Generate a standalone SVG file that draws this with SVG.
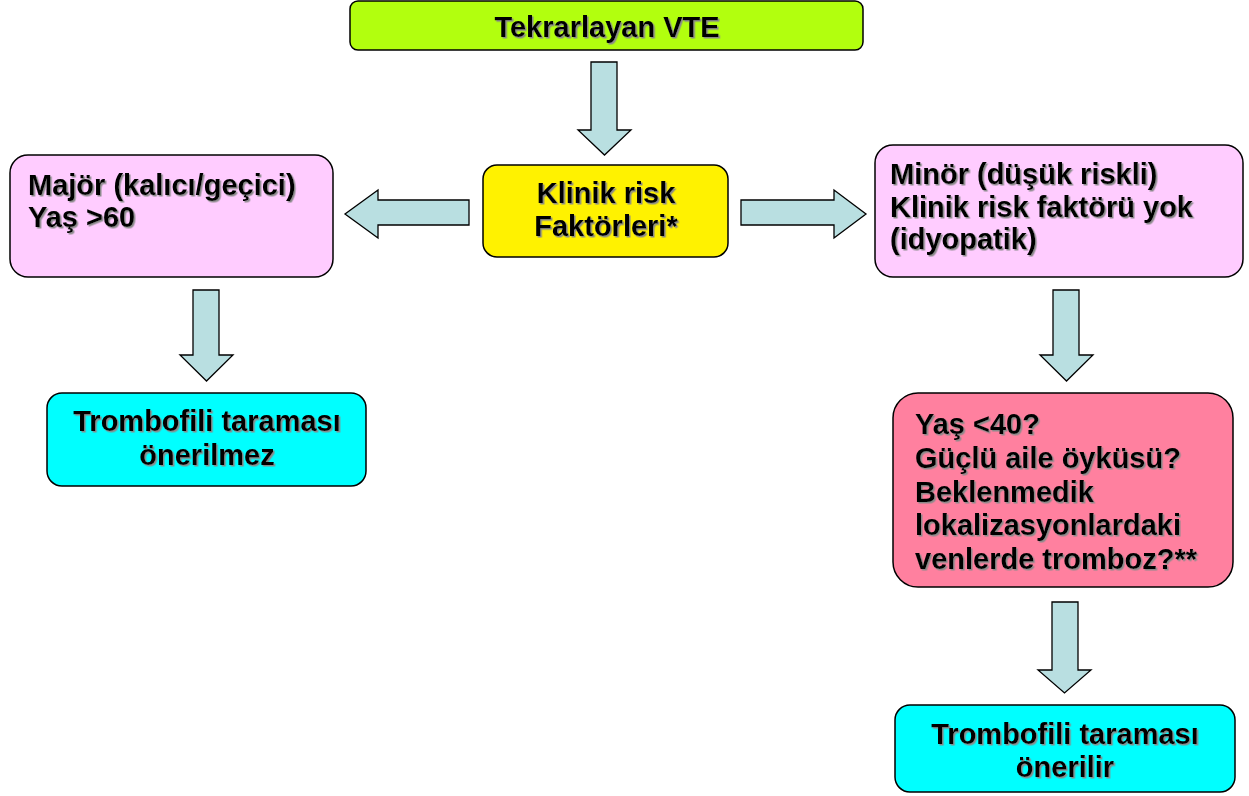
<svg xmlns="http://www.w3.org/2000/svg" width="1249" height="796" viewBox="0 0 1249 796">
<defs>
<filter id="sh" x="-10%" y="-10%" width="120%" height="130%">
<feDropShadow dx="1.5" dy="1.5" stdDeviation="0.6" flood-color="#8a8a8a" flood-opacity="1"/>
</filter>
</defs>
<style>
.box{stroke:#000;stroke-width:1.5}
.t{font-family:"Liberation Sans",Arial,sans-serif;font-weight:bold;font-size:29px;fill:#000;filter:url(#sh)}
.c{text-anchor:middle}
.arr{fill:#B9DFE1;stroke:#000;stroke-width:1.3;stroke-linejoin:miter}
</style>
<rect width="1249" height="796" fill="#fff"/>
<g id="connectors">
<path class="arr" d="M591,62 H617 V130 H631 L604.5,155 L578,130 H591 Z"/>
<path class="arr" d="M469,200 V225 H378 V238 L345,214 L378,190 V200 Z"/>
<path class="arr" d="M741,200 V225 H834 V238 L866,214 L834,190 V200 Z"/>
<path class="arr" d="M193,290 H219 V355 H233 L206.5,381 L180,355 H193 Z"/>
<path class="arr" d="M1053,290 H1079 V355 H1093 L1066.5,381 L1040,355 H1053 Z"/>
<path class="arr" d="M1052,602 H1078 V670 H1091 L1064.5,693 L1038,670 H1052 Z"/>
</g>
<g id="n-top">
<rect class="box" x="350" y="1" width="513" height="49" rx="8" fill="#B2FF0E"/>
<text class="t c" x="607" y="37">Tekrarlayan VTE</text>
</g>
<g id="n-klinik">
<rect class="box" x="483" y="165" width="245" height="92" rx="14" fill="#FFF200"/>
<text class="t c" x="606" y="203">Klinik risk</text>
<text class="t c" x="606" y="236">Faktörleri*</text>
</g>
<g id="n-major">
<rect class="box" x="10" y="155" width="323" height="122" rx="18" fill="#FFCCFF"/>
<text class="t" x="28" y="195">Majör (kalıcı/geçici)</text>
<text class="t" x="28" y="227">Yaş &gt;60</text>
</g>
<g id="n-minor">
<rect class="box" x="875" y="145" width="368" height="132" rx="18" fill="#FFCCFF"/>
<text class="t" x="890" y="184">Minör (düşük riskli)</text>
<text class="t" x="890" y="217">Klinik risk faktörü yok</text>
<text class="t" x="890" y="249">(idyopatik)</text>
</g>
<g id="n-onerilmez">
<rect class="box" x="47" y="393" width="319" height="93" rx="15" fill="#00FFFF"/>
<text class="t c" x="207" y="431">Trombofili taraması</text>
<text class="t c" x="207" y="465">önerilmez</text>
</g>
<g id="n-yas40">
<rect class="box" x="893" y="393" width="340" height="194" rx="25" fill="#FF809F"/>
<text class="t" x="915" y="434">Yaş &lt;40?</text>
<text class="t" x="915" y="468">Güçlü aile öyküsü?</text>
<text class="t" x="915" y="502">Beklenmedik</text>
<text class="t" x="915" y="535">lokalizasyonlardaki</text>
<text class="t" x="915" y="569">venlerde tromboz?**</text>
</g>
<g id="n-onerilir">
<rect class="box" x="895" y="705" width="340" height="87" rx="15" fill="#00FFFF"/>
<text class="t c" x="1065" y="744">Trombofili taraması</text>
<text class="t c" x="1065" y="777">önerilir</text>
</g>
</svg>
